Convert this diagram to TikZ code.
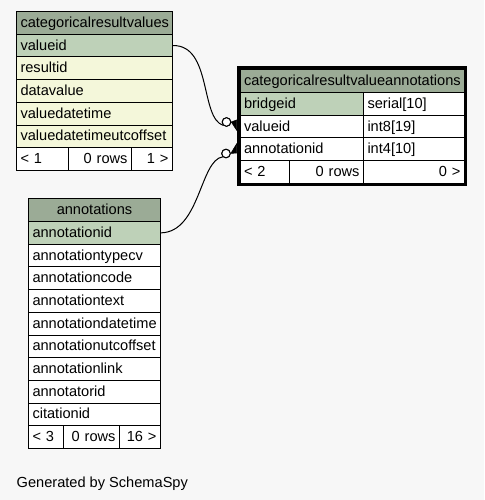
\documentclass[tikz,border=0pt]{standalone}
\usepackage{fontspec}
\setmainfont{Liberation Sans}
\definecolor{bgc}{HTML}{F7F7F7}
\definecolor{hdrc}{HTML}{9BAB96}
\definecolor{pkc}{HTML}{BED1B8}
\definecolor{rowy}{HTML}{F4F7DA}
\newcommand{\tabfont}{\fontsize{14.6}{16}\selectfont}
\tikzset{
  cell/.style={draw=black, line width=1pt, anchor=north west, minimum height=22.7pt,
    inner xsep=4pt, inner ysep=0pt, text height=11pt, text depth=2pt, font=\tabfont, fill=white},
  lcell/.style={cell, align=left},
  rcell/.style={cell, align=right},
  ccell/.style={cell, align=center},
  hdr/.style={fill=hdrc},
  pk/.style={fill=pkc},
  yrow/.style={fill=rowy},
  conn/.style={draw=black, line width=1pt},
  odot/.style={circle, draw=black, line width=1pt, fill=white, minimum size=8.5pt, inner sep=0pt},
  crow/.style={fill=black, draw=black, line width=0.5pt}
}
\begin{document}
\begin{tikzpicture}[x=1pt,y=-1pt]
\useasboundingbox (0,0) rectangle (484,500);
\fill[bgc] (0,0) rectangle (484,500);

% ---------- table 1: categoricalresultvalues
\node[ccell, hdr, text width=148pt] (t1h) at (16,11) {categoricalresultvalues};
\node[lcell, pk, text width=148pt] (t1r1) at (16,33.7) {valueid};
\node[lcell, yrow, text width=148pt] (t1r2) at (16,56.4) {resultid};
\node[lcell, yrow, text width=148pt] (t1r3) at (16,79.1) {datavalue};
\node[lcell, yrow, text width=148pt] (t1r4) at (16,101.8) {valuedatetime};
\node[lcell, yrow, text width=148pt] (t1r5) at (16,124.5) {valuedatetimeutcoffset};
\node[lcell, text width=44pt] (t1f1) at (16,147.2) {< 1};
\node[rcell, text width=55pt] (t1f2) at (68,147.2) {0 rows};
\node[rcell, text width=33pt] (t1f3) at (131,147.2) {1 >};

% ---------- table 2: categoricalresultvalueannotations
\node[ccell, hdr, text width=216.5pt] (t2h) at (239.5,69.5) {categoricalresultvalueannotations};
\node[lcell, pk, text width=115.5pt] (t2r1a) at (239.5,92.1) {bridgeid};
\node[lcell, text width=93pt] (t2r1b) at (363,92.1) {serial[10]};
\node[lcell, text width=115.5pt] (t2r2a) at (239.5,114.7) {valueid};
\node[lcell, text width=93pt] (t2r2b) at (363,114.7) {int8[19]};
\node[lcell, text width=115.5pt] (t2r3a) at (239.5,137.3) {annotationid};
\node[lcell, text width=93pt] (t2r3b) at (363,137.3) {int4[10]};
\node[lcell, text width=41.5pt] (t2f1) at (239.5,159.9) {< 2};
\node[rcell, text width=66pt] (t2f2) at (289,159.9) {0 rows};
\node[rcell, text width=93pt] (t2f3) at (363,159.9) {0 >};
\draw[line width=3pt] (238,68) rectangle (465.5,184);

% ---------- table 3: annotations
\node[ccell, hdr, text width=124pt] (t3h) at (28,198.3) {annotations};
\node[lcell, pk, text width=124pt] (t3r1) at (28,221) {annotationid};
\node[lcell, text width=124pt] (t3r2) at (28,243.7) {annotationtypecv};
\node[lcell, text width=124pt] (t3r3) at (28,266.4) {annotationcode};
\node[lcell, text width=124pt] (t3r4) at (28,289.1) {annotationtext};
\node[lcell, text width=124pt] (t3r5) at (28,311.8) {annotationdatetime};
\node[lcell, text width=124pt] (t3r6) at (28,334.5) {annotationutcoffset};
\node[lcell, text width=124pt] (t3r7) at (28,357.2) {annotationlink};
\node[lcell, text width=124pt] (t3r8) at (28,379.9) {annotatorid};
\node[lcell, text width=124pt] (t3r9) at (28,402.6) {citationid};
\node[lcell, text width=27pt] (t3f1) at (28,425.3) {< 3};
\node[rcell, text width=48pt] (t3f2) at (63,425.3) {0 rows};
\node[rcell, text width=33pt] (t3f3) at (119,425.3) {16 >};

% ---------- connectors
\node[odot] (o1) at (226.5,122) {};
\node[odot] (o2) at (226,153.5) {};
\draw[conn] (t1r1.east) .. controls (212,45) and (200,118) .. (o1.south west);
\draw[conn] (t3r1.east) .. controls (200,232) and (200,160) .. (o2.south west);
\fill[crow] (o1.east) -- (236.5,120) -- (236.5,130) -- cycle;
\fill[crow] (o2.east) -- (236.5,144) -- (236.5,153) -- cycle;
\node[odot] at (o1) {};
\node[odot] at (o2) {};

% ---------- footer text
\node[anchor=base west, inner sep=0pt, font=\tabfont] (gen) at (16.5,487) {Generated by SchemaSpy};
\end{tikzpicture}
\end{document}
